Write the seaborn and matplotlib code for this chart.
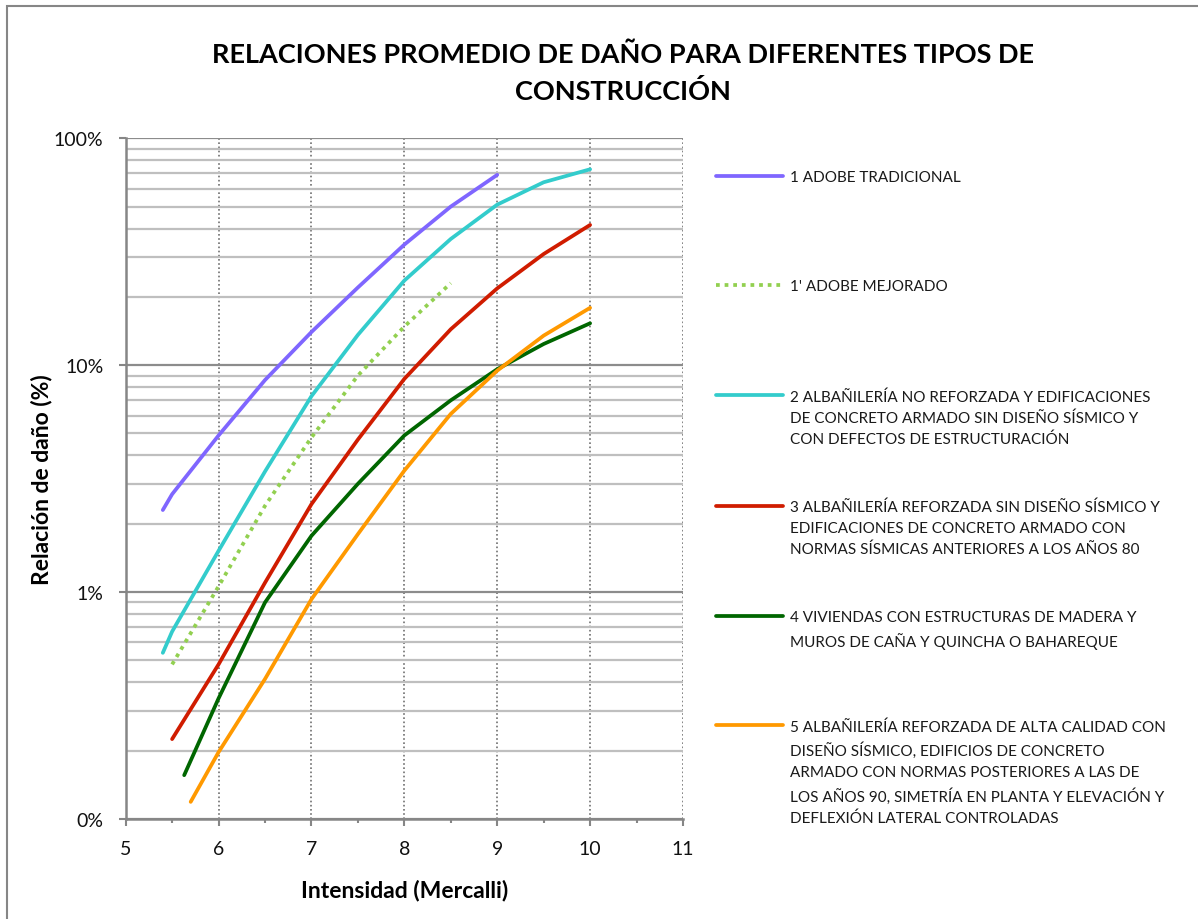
import matplotlib
matplotlib.use("Agg")
import matplotlib.pyplot as plt
from matplotlib.lines import Line2D
from matplotlib.patches import Rectangle
from matplotlib.ticker import LogLocator, NullFormatter
import seaborn as sns

# Intensity (Mercalli) and damage ratio (%) for each construction type
x_adobe = [5.4, 5.5, 6.0, 6.5, 7.0, 7.5, 8.0, 8.5, 9.0]
y_adobe = [2.3, 2.7, 4.9, 8.6, 14.0, 22.0, 34.0, 50.0, 69.0]

x_adobe_mej = [5.5, 6.0, 6.5, 7.0, 7.5, 8.0, 8.5]
y_adobe_mej = [0.48, 1.06, 2.4, 4.8, 9.0, 14.8, 23.0]

x_alb_nr = [5.4, 5.5, 6.0, 6.5, 7.0, 7.5, 8.0, 8.5, 9.0, 9.5, 10.0]
y_alb_nr = [0.54, 0.67, 1.52, 3.4, 7.3, 13.6, 23.6, 36.0, 51.0, 64.0, 73.0]

x_alb_r = [5.5, 6.0, 6.5, 7.0, 7.5, 8.0, 8.5, 9.0, 9.5, 10.0]
y_alb_r = [0.225, 0.48, 1.1, 2.44, 4.7, 8.7, 14.4, 21.8, 30.9, 41.5]

x_madera = [5.63, 6.0, 6.5, 7.0, 7.5, 8.0, 8.5, 9.0, 9.5, 10.0]
y_madera = [0.156, 0.34, 0.9, 1.77, 3.0, 4.9, 7.0, 9.6, 12.4, 15.3]

x_alta = [5.7, 6.0, 6.5, 7.0, 7.5, 8.0, 8.5, 9.0, 9.5, 10.0]
y_alta = [0.119, 0.197, 0.414, 0.93, 1.8, 3.43, 6.1, 9.46, 13.5, 17.9]

labels = [
    "1 ADOBE TRADICIONAL",
    "1' ADOBE MEJORADO",
    "2 ALBAÑILERÍA NO REFORZADA Y EDIFICACIONES\nDE CONCRETO ARMADO SIN DISEÑO SÍSMICO Y\nCON DEFECTOS DE ESTRUCTURACIÓN",
    "3 ALBAÑILERÍA REFORZADA SIN DISEÑO SÍSMICO Y\nEDIFICACIONES DE CONCRETO ARMADO CON\nNORMAS SÍSMICAS ANTERIORES A LOS AÑOS 80",
    "4 VIVIENDAS CON ESTRUCTURAS DE MADERA Y\nMUROS DE CAÑA Y QUINCHA O BAHAREQUE",
    "5 ALBAÑILERÍA REFORZADA DE ALTA CALIDAD CON\nDISEÑO SÍSMICO, EDIFICIOS DE CONCRETO\nARMADO CON NORMAS POSTERIORES A LAS DE\nLOS AÑOS 90, SIMETRÍA EN PLANTA Y ELEVACIÓN Y\nDEFLEXIÓN LATERAL CONTROLADAS",
]

series = [
    (x_adobe, y_adobe, "#7f66ff", "-"),
    (x_adobe_mej, y_adobe_mej, "#92d050", (0, (1, 1.3))),
    (x_alb_nr, y_alb_nr, "#33cccc", "-"),
    (x_alb_r, y_alb_r, "#d01c00", "-"),
    (x_madera, y_madera, "#006600", "-"),
    (x_alta, y_alta, "#ff9900", "-"),
]

sns.set_style("white")
plt.rcParams['font.family'] = ['Lato', 'DejaVu Sans']

fig = plt.figure(figsize=(11.98, 9.2), dpi=100)
ax = fig.add_axes([0.1049, 0.1087, 0.4652, 0.7399])

for xs, ys, color, ls in series:
    sns.lineplot(x=xs, y=ys, color=color, linestyle=ls, linewidth=2.7,
                 solid_capstyle='round', ax=ax, sort=False)

ax.set_yscale('log')
ax.set_xlim(5, 11)
ax.set_ylim(0.1, 100)
ax.set_xticks(range(5, 12))
ax.set_xticks([5.5, 6.5, 7.5, 8.5, 9.5, 10.5], minor=True)
ax.set_yticks([0.1, 1, 10, 100])
ax.set_yticklabels(['0%', '1%', '10%', '100%'])
ax.yaxis.set_minor_locator(LogLocator(base=10, subs=range(2, 10)))
ax.yaxis.set_minor_formatter(NullFormatter())

# gridlines like the spreadsheet original
ax.grid(True, which='major', axis='y', color='#8c8c8c', linewidth=1.6)
ax.grid(True, which='minor', axis='y', color='#bfbfbf', linewidth=1.6)
ax.grid(True, which='major', axis='x', color='#707070', linewidth=1.2, linestyle=(0, (1, 1.5)))
ax.set_axisbelow(True)

for side in ['top', 'right']:
    ax.spines[side].set_visible(False)
for side in ['left', 'bottom']:
    ax.spines[side].set_color('#868686')
    ax.spines[side].set_linewidth(1.8)

ax.tick_params(axis='both', which='major', direction='out', length=5, width=1.5,
               color='#868686', labelsize=14, labelcolor='#111111', left=True, bottom=True)
ax.tick_params(axis='y', which='major', pad=11)
ax.tick_params(axis='x', which='major', pad=10)
ax.tick_params(axis='x', which='minor', direction='out', length=3, width=1.5,
               color='#868686', bottom=True)
ax.tick_params(axis='y', which='minor', length=0)

ax.set_xlabel('Intensidad (Mercalli)', fontsize=16.5, fontweight='bold', labelpad=16, color='black')
ax.set_ylabel('Relación de daño (%)', fontsize=16.5, fontweight='bold', labelpad=1, color='black')

fig.text(0.52, 0.940, 'RELACIONES PROMEDIO DE DAÑO PARA DIFERENTES TIPOS DE',
         ha='center', va='center', fontsize=19.5, fontweight='bold', color='black')
fig.text(0.52, 0.900, 'CONSTRUCCIÓN',
         ha='center', va='center', fontsize=19.5, fontweight='bold', color='black')

# legend to the right of the plot
legend_rows = [177, 286, 396, 507, 617, 726]
W, H = 1198, 920
for (xs, ys, color, ls), label, row in zip(series, labels, legend_rows):
    yf = 1 - row / H
    fig.add_artist(Line2D([716 / W, 783 / W], [yf, yf], color=color, linestyle=ls,
                          linewidth=2.7, solid_capstyle='round', transform=fig.transFigure))
    fig.text(790 / W, 1 - (row - 6) / H, label, ha='left', va='top',
             fontsize=11, color='#1a1a1a', linespacing=1.6)

# chart border
fig.add_artist(Rectangle((7 / W, -0.05), 1.1, 1.05 - 7 / H, transform=fig.transFigure,
                         fill=False, edgecolor='#868686', linewidth=1.5))

fig.savefig('out.png', dpi=100)
